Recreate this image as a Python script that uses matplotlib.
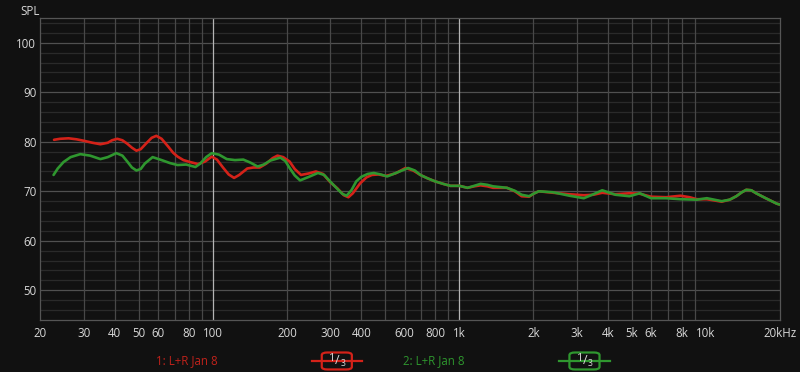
import matplotlib
matplotlib.use("Agg")
import matplotlib.pyplot as plt
from matplotlib.patches import FancyBboxPatch

# frequency response readings (Hz, dB SPL)
red_f = [22.7, 24, 26, 28, 30, 32.5, 35, 37.5, 39, 41, 43, 45, 47, 49, 51, 54, 56.5, 59,
         62, 66, 69, 72, 76, 81, 87, 93, 99, 104, 110, 116, 122, 128, 138, 146, 155, 165,
         175, 183, 193, 205, 215, 228, 245, 262, 280, 300, 320, 340, 355, 370, 396, 420,
         442, 470, 504, 550, 605, 650, 695, 745, 798, 860, 920, 1000, 1080, 1150, 1220,
         1300, 1370, 1560, 1680, 1790, 1920, 2000, 2100, 2400, 2800, 3200, 3500, 3800,
         4300, 4900, 5400, 6000, 6900, 7900, 8600, 9200, 10100, 11600, 12500, 13300,
         14000, 14600, 15300, 16000, 17500, 19400, 20000]
red_db = [80.4, 80.6, 80.7, 80.5, 80.2, 79.8, 79.5, 79.8, 80.3, 80.6, 80.3, 79.6, 78.8,
          78.2, 78.5, 79.8, 80.8, 81.2, 80.6, 79.0, 77.8, 77.0, 76.3, 75.9, 75.5, 76.0,
          77.0, 76.4, 74.8, 73.4, 72.7, 73.3, 74.6, 74.8, 74.8, 75.6, 76.7, 77.2, 76.9,
          76.0, 74.5, 73.3, 73.6, 74.0, 73.5, 71.8, 70.6, 69.2, 68.8, 69.6, 71.6, 72.8,
          73.3, 73.4, 73.1, 73.6, 74.7, 74.2, 73.3, 72.6, 72.0, 71.5, 71.1, 71.1, 70.7,
          71.0, 71.2, 71.0, 70.7, 70.7, 70.0, 69.0, 68.9, 69.5, 70.0, 69.7, 69.4, 69.2,
          69.3, 69.7, 69.4, 69.6, 69.5, 68.9, 68.8, 69.1, 68.8, 68.4, 68.4, 67.9, 68.3,
          69.0, 69.8, 70.3, 70.2, 69.6, 68.6, 67.5, 67.3]

green_f = [22.6, 23.5, 24.8, 26.5, 29, 31.8, 35, 37.5, 40.6, 43, 45, 47, 49, 51, 53, 57,
           62, 67, 72, 78, 85, 89, 94, 99, 106, 114, 123, 133, 142, 152, 161, 171, 188,
           197, 205, 215, 226, 245, 267, 283, 299, 320, 335, 349, 365, 382, 400, 425, 450,
           480, 510, 560, 620, 660, 695, 745, 798, 860, 920, 1000, 1080, 1150, 1220, 1300,
           1370, 1560, 1680, 1790, 1920, 2000, 2100, 2400, 2800, 3200, 3500, 3800, 4300,
           4900, 5400, 6000, 6900, 7900, 9200, 10100, 11600, 12500, 13300, 14000, 14600,
           15300, 16000, 17500, 19400, 20000]
green_db = [73.3, 74.6, 75.9, 76.9, 77.5, 77.2, 76.5, 76.9, 77.7, 77.2, 76.0, 74.8, 74.2,
            74.5, 75.6, 76.9, 76.3, 75.7, 75.3, 75.4, 74.9, 75.6, 76.9, 77.7, 77.4, 76.5,
            76.3, 76.4, 75.8, 75.0, 75.4, 76.2, 76.8, 76.1, 74.7, 73.2, 72.2, 72.9, 73.7,
            73.3, 72.0, 70.5, 69.5, 69.1, 70.2, 72.0, 72.9, 73.5, 73.7, 73.4, 73.0, 73.8,
            74.7, 74.2, 73.3, 72.6, 72.0, 71.5, 71.1, 71.1, 70.7, 71.1, 71.5, 71.3, 71.0,
            70.7, 70.1, 69.3, 69.0, 69.5, 70.0, 69.8, 69.1, 68.6, 69.4, 70.2, 69.3, 69.0,
            69.6, 68.6, 68.6, 68.4, 68.3, 68.6, 68.0, 68.3, 69.0, 69.8, 70.3, 70.2, 69.6,
            68.6, 67.5, 67.3]

x_ticks = [20, 30, 40, 50, 60, 80, 100, 200, 300, 400, 600, 800, 1000, 2000, 3000,
           4000, 5000, 6000, 8000, 10000, 20000]
x_labels = ["20", "30", "40", "50", "60", "80", "100", "200", "300", "400", "600",
            "800", "1k", "2k", "3k", "4k", "5k", "6k", "8k", "10k", "20kHz"]
y_ticks = [50, 60, 70, 80, 90, 100]

BG = "#111111"
RED = "#d42219"
GREEN = "#2f972f"
TXT = "#d8d8d8"

plt.rcParams["font.family"] = ["Open Sans", "DejaVu Sans"]

fig = plt.figure(figsize=(8, 3.72), dpi=100, facecolor=BG)
ax = fig.add_axes([0.0506, 0.1398, 0.9244, 0.8118], facecolor=BG)
ax.set_xscale("log")
ax.set_xlim(20, 20000)
ax.set_ylim(44, 105)

# grid: horizontal first, then verticals on top
for v in range(46, 105, 2):
    c = "#505050" if v % 10 == 0 else "#2a2a2a"
    ax.axhline(v, color=c, lw=0.9, zorder=1)
for d in [10, 100, 1000]:
    for m in range(1, 10):
        f = d * m
        if f <= 20 or f >= 20000:
            continue
        if f in (100, 1000, 10000):
            ax.axvline(f, color="#b4b4b4", lw=0.9, zorder=2)
        else:
            ax.axvline(f, color="#484848", lw=0.9, zorder=2)

ax.plot(red_f, red_db, color=RED, lw=1.9, zorder=3, solid_capstyle="round", solid_joinstyle="round")
ax.plot(green_f, green_db, color=GREEN, lw=1.9, zorder=4, solid_capstyle="round", solid_joinstyle="round")

for s in ax.spines.values():
    s.set_color("#555555")
    s.set_linewidth(0.9)

ax.set_xticks(x_ticks)
ax.set_xticklabels(x_labels)
ax.xaxis.set_minor_locator(matplotlib.ticker.NullLocator())
ax.set_yticks(y_ticks)
ax.tick_params(length=0, colors=TXT, labelsize=8.3, pad=5)
ax.tick_params(axis="y", pad=3)

fig.text(0.025, 0.968, "SPL", color=TXT, fontsize=8.3, va="center")

# legend row
ly = 0.0296
fig.text(0.2334, ly, "1: L+R Jan 8", color="#c0221b", fontsize=8.3, ha="center", va="center")
fig.text(0.5417, ly, "2: L+R Jan 8", color="#2e962e", fontsize=8.3, ha="center", va="center")
for cx, col in [(0.421, RED), (0.7306, GREEN)]:
    fig.add_artist(plt.Line2D([cx - 0.0316, cx + 0.0316], [ly, ly], color=col, lw=1.6))
    box = FancyBboxPatch((cx - 0.0188, ly - 0.0228), 0.0376, 0.0456,
                         boxstyle="round,pad=0,rounding_size=0.007",
                         transform=fig.transFigure, facecolor=BG, edgecolor=col, lw=1.6)
    fig.add_artist(box)
    fig.text(cx - 0.0055, ly + 0.006, "1", color=TXT, fontsize=7.8, ha="center", va="center")
    fig.text(cx + 0.0005, ly + 0.001, "/", color=TXT, fontsize=9, ha="center", va="center")
    fig.text(cx + 0.0075, ly - 0.008, "3", color=TXT, fontsize=6.2, ha="center", va="center")

fig.savefig("out.png", dpi=100, facecolor=BG)
